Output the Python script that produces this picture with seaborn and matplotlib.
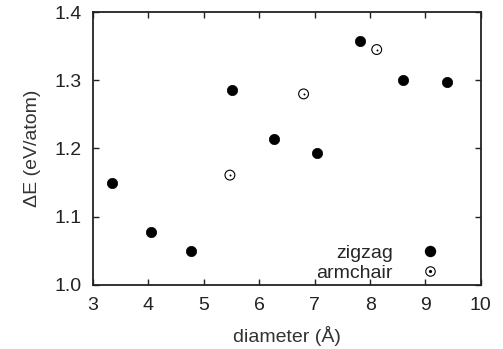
import pandas as pd
import seaborn as sns
import matplotlib.pyplot as plt
from matplotlib.lines import Line2D

# Data
zigzag_d = [3.34, 4.04, 4.77, 5.51, 6.27, 7.04, 7.82, 8.60, 9.38]
zigzag_e = [1.150, 1.078, 1.050, 1.285, 1.214, 1.194, 1.358, 1.301, 1.298]
armchair_d = [5.47, 6.80, 8.12]
armchair_e = [1.161, 1.280, 1.345]

zz = pd.DataFrame({"diameter": zigzag_d, "dE": zigzag_e})
ac = pd.DataFrame({"diameter": armchair_d, "dE": armchair_e})

sns.set_style("ticks")
plt.rcParams["font.family"] = ["Liberation Sans", "DejaVu Sans"]
plt.rcParams["font.size"] = 14

fig = plt.figure(figsize=(5.03, 3.49), dpi=100)
ax = fig.add_axes([0.185, 0.1834, 0.771, 0.7822])

sns.scatterplot(data=zz, x="diameter", y="dE", ax=ax, color="black",
                s=55, edgecolor="black", linewidth=0.5, marker="o")
sns.scatterplot(data=ac, x="diameter", y="dE", ax=ax, facecolor="none",
                s=50, edgecolor="black", linewidth=0.8, marker="o")
sns.scatterplot(data=ac, x="diameter", y="dE", ax=ax, color="black",
                s=2, linewidth=0, marker="o")

ax.set_xlim(3, 10)
ax.set_ylim(1.0, 1.4)
ax.set_xticks([3, 4, 5, 6, 7, 8, 9, 10])
ax.set_yticks([1.0, 1.1, 1.2, 1.3, 1.4])
ax.set_yticklabels(["1.0", "1.1", "1.2", "1.3", "1.4"])
ax.tick_params(direction="in", top=True, right=True, length=4, width=1,
               labelsize=14, colors="#222222")
ax.tick_params(axis="x", pad=9)
ax.tick_params(axis="y", pad=8)
for sp in ax.spines.values():
    sp.set_linewidth(1.3)
    sp.set_color("#222222")
ax.set_xlabel("diameter (Å)", fontsize=14, color="#333333", labelpad=8)
ax.set_ylabel("ΔE (eV/atom)", fontsize=14, color="#333333", labelpad=10)

h_zz = Line2D([], [], marker="o", linestyle="none", color="black", markersize=7.2)
h_ac = (Line2D([], [], marker="o", linestyle="none", markerfacecolor="none",
               markeredgecolor="black", markersize=6.8, markeredgewidth=0.8),
        Line2D([], [], marker="o", linestyle="none", color="black", markersize=1.3))
ax.legend([h_zz, h_ac], ["zigzag", "armchair"], loc="lower right",
          bbox_to_anchor=(0.94, -0.054), frameon=False, markerfirst=False,
          handlelength=1.0, handletextpad=1.43, labelspacing=0.15, fontsize=14)

fig.savefig("out.png", dpi=100)
